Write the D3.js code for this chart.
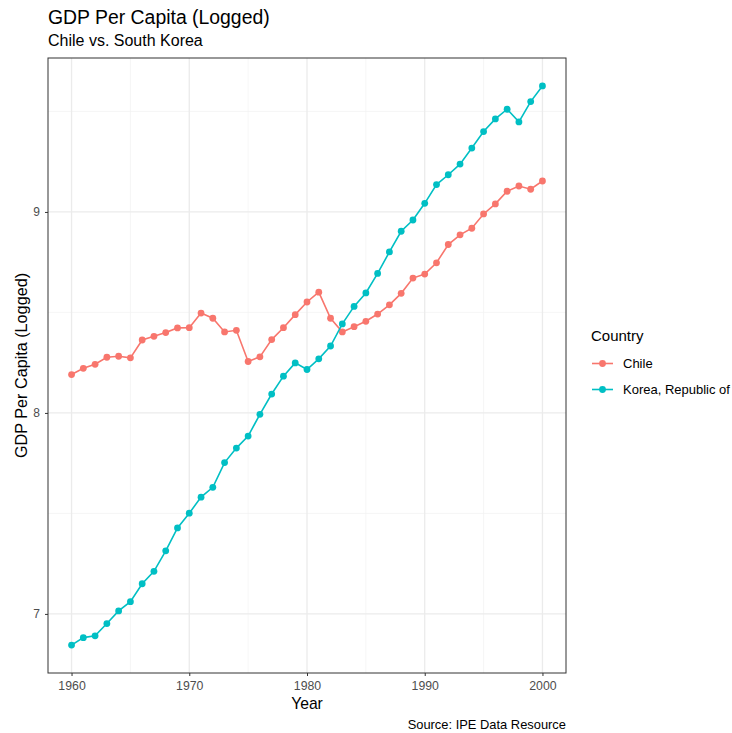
<!DOCTYPE html>
<html><head><meta charset="utf-8">
<script src="https://cdn.jsdelivr.net/npm/d3@7"></script>
<style>body{margin:0;background:#fff;} text{font-family:"Liberation Sans",Arial,sans-serif;}</style>
</head><body>
<svg id="chart" width="732" height="733"></svg>
<script>
const years = d3.range(1960, 2001);
const chile = [8.191,8.222,8.242,8.277,8.282,8.274,8.363,8.381,8.400,8.423,8.424,8.497,8.471,8.403,8.411,8.256,8.279,8.365,8.424,8.489,8.552,8.601,8.471,8.403,8.429,8.456,8.492,8.538,8.595,8.671,8.691,8.747,8.838,8.886,8.919,8.990,9.040,9.103,9.129,9.113,9.154];
const korea = [6.845,6.882,6.891,6.952,7.015,7.061,7.150,7.212,7.314,7.428,7.501,7.581,7.630,7.753,7.825,7.885,7.993,8.094,8.183,8.249,8.216,8.269,8.333,8.443,8.530,8.597,8.694,8.801,8.904,8.960,9.043,9.136,9.185,9.238,9.318,9.400,9.463,9.511,9.448,9.549,9.627];
const seriesNames = ["Chile", "Korea, Republic of"];
const colors = ["#F8766D", "#00BFC4"];
const xTicks = [1960, 1970, 1980, 1990, 2000];
const xMinor = [1965, 1975, 1985, 1995];
const yTicks = [7, 8, 9];
const yMinor = [7.5, 8.5, 9.5];

const svg = d3.select("#chart");
const L = 48, R = 566, T = 58, B = 673;
const x = d3.scaleLinear().domain([1958, 2002]).range([L, R]);
const y = d3.scaleLinear().domain([6.706, 9.766]).range([B, T]);

const g = svg.append("g");
// grid
g.selectAll(".xm").data(xMinor).enter().append("line")
  .attr("x1", d => x(d)).attr("x2", d => x(d)).attr("y1", T).attr("y2", B)
  .attr("stroke", "#f2f2f2").attr("stroke-width", 0.7);
g.selectAll(".ym").data(yMinor).enter().append("line")
  .attr("y1", d => y(d)).attr("y2", d => y(d)).attr("x1", L).attr("x2", R)
  .attr("stroke", "#f2f2f2").attr("stroke-width", 0.7);
g.selectAll(".xg").data(xTicks).enter().append("line")
  .attr("x1", d => x(d)).attr("x2", d => x(d)).attr("y1", T).attr("y2", B)
  .attr("stroke", "#ebebeb").attr("stroke-width", 1.3);
g.selectAll(".yg").data(yTicks).enter().append("line")
  .attr("y1", d => y(d)).attr("y2", d => y(d)).attr("x1", L).attr("x2", R)
  .attr("stroke", "#ebebeb").attr("stroke-width", 1.3);

// series
const series = [chile, korea];
const line = d3.line().x((d, i) => x(years[i])).y(d => y(d));
series.forEach((s, k) => {
  g.append("path").datum(s).attr("d", line).attr("fill", "none")
    .attr("stroke", colors[k]).attr("stroke-width", 1.6);
  g.selectAll(".p" + k).data(s).enter().append("circle")
    .attr("cx", (d, i) => x(years[i])).attr("cy", d => y(d)).attr("r", 3.4)
    .attr("fill", colors[k]);
});

// border
svg.append("rect").attr("x", L).attr("y", T).attr("width", R - L).attr("height", B - T)
  .attr("fill", "none").attr("stroke", "#333333").attr("stroke-width", 1);

// axes
const xAxis = d3.axisBottom(x).tickValues(xTicks).tickFormat(d3.format("d")).tickSize(3).tickPadding(5);
const xa = svg.append("g").attr("transform", `translate(0,${B})`).call(xAxis);
xa.select(".domain").remove();
xa.selectAll("line").attr("stroke", "#333333");
xa.selectAll("text").attr("fill", "#4d4d4d").attr("font-size", 12.3).attr("font-family", "Liberation Sans, Arial, sans-serif");

const yAxis = d3.axisLeft(y).tickValues(yTicks).tickFormat(d3.format("d")).tickSize(3).tickPadding(5);
const ya = svg.append("g").attr("transform", `translate(${L},0)`).call(yAxis);
ya.select(".domain").remove();
ya.selectAll("line").attr("stroke", "#333333");
ya.selectAll("text").attr("fill", "#4d4d4d").attr("font-size", 12).attr("font-family", "Liberation Sans, Arial, sans-serif");

// titles
svg.append("text").attr("x", L).attr("y", 24).attr("font-size", 19.4).attr("fill", "#000").text("GDP Per Capita (Logged)");
svg.append("text").attr("x", L).attr("y", 45.5).attr("font-size", 16).attr("fill", "#000").text("Chile vs. South Korea");
svg.append("text").attr("x", (L + R) / 2).attr("y", 708.5).attr("text-anchor", "middle").attr("font-size", 15.7).attr("fill", "#000").text("Year");
svg.append("text").attr("transform", `translate(26.5,${(T + B) / 2}) rotate(-90)`).attr("text-anchor", "middle").attr("font-size", 16.2).attr("fill", "#000").text("GDP Per Capita (Logged)");
svg.append("text").attr("x", R).attr("y", 729).attr("text-anchor", "end").attr("font-size", 12.9).attr("fill", "#000").text("Source: IPE Data Resource");

// legend
const lg = svg.append("g");
lg.append("text").attr("x", 591).attr("y", 341).attr("font-size", 15).attr("fill", "#000").text("Country");
seriesNames.forEach((n, k) => {
  const yy = 363.5 + k * 26;
  lg.append("line").attr("x1", 592).attr("x2", 613).attr("y1", yy).attr("y2", yy).attr("stroke", colors[k]).attr("stroke-width", 1.6);
  lg.append("circle").attr("cx", 602.5).attr("cy", yy).attr("r", 3.4).attr("fill", colors[k]);
  lg.append("text").attr("x", 623).attr("y", yy + 4.7).attr("font-size", 13).attr("fill", "#000").text(n);
});
</script>
</body></html>
